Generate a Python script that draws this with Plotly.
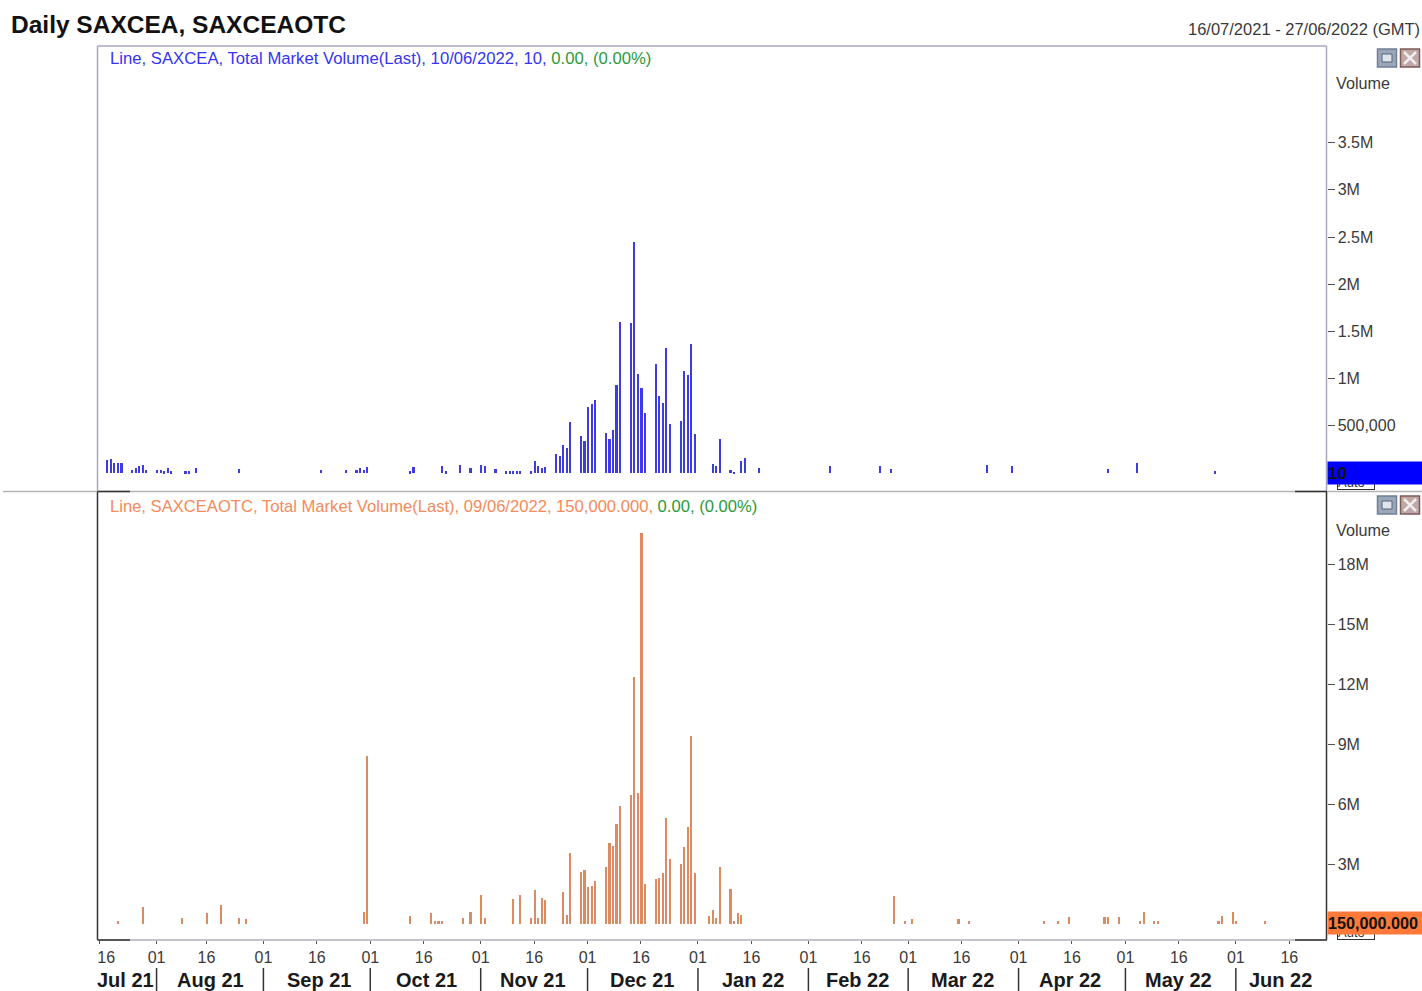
import pandas as pd
import plotly.graph_objects as go

# Days counted from the start of the chart (16 Jul 2021)
START = pd.Timestamp("2021-07-16")
top_days = [3,4,5,6,7,10,11,12,13,14,17,18,19,20,21,25,26,28,40,63,70,73,74,75,76,88,89,
            97,98,102,105,108,109,112,115,116,117,118,119,122,123,124,125,126,
            129,130,131,132,133,136,137,138,139,140,143,144,145,146,147,150,151,152,153,154,
            157,158,159,160,161,164,165,166,167,168,173,174,175,178,179,181,182,186,
            206,220,223,250,257,284,292,314]
top_volume = [134e3,152e3,106e3,106e3,106e3,35e3,56e3,78e3,81e3,35e3,35e3,35e3,21e3,56e3,21e3,18e3,18e3,53e3,39e3,28e3,28e3,28e3,56e3,28e3,64e3,21e3,64e3,
              71e3,21e3,88e3,53e3,88e3,71e3,39e3,18e3,18e3,18e3,18e3,18e3,18e3,131e3,78e3,49e3,67e3,
              198e3,177e3,293e3,261e3,540e3,392e3,343e3,703e3,734e3,770e3,427e3,360e3,459e3,932e3,1.6e6,1.585e6,2.45e6,1.045e6,897e3,636e3,
              1.16e6,816e3,738e3,1.324e6,523e3,554e3,1.08e6,1.04e6,1.37e6,410e3,99e3,78e3,360e3,32e3,14e3,131e3,162e3,49e3,
              71e3,71e3,39e3,88e3,71e3,39e3,106e3,21e3]
bottom_days = [6,13,24,31,35,40,42,75,76,88,94,95,96,97,103,105,108,109,117,119,122,123,124,125,126,
               131,132,133,136,137,138,139,140,143,144,145,146,147,150,151,152,153,154,
               157,158,159,160,161,164,165,166,167,168,172,173,174,175,178,179,180,181,
               224,227,229,242,245,266,270,273,283,284,287,293,294,297,298,315,316,319,320,328]
bottom_volume = [150e3,852e3,317e3,551e3,935e3,317e3,234e3,618e3,8.41e6,384e3,551e3,150e3,150e3,150e3,317e3,618e3,1.47e6,317e3,1.235e6,1.45e6,284e3,1.69e6,284e3,1.29e6,1.22e6,
                 1.6e6,451e3,3.54e6,2.62e6,2.69e6,1.84e6,1.92e6,2.15e6,2.84e6,4.07e6,3.92e6,5.03e6,5.93e6,6.48e6,12.37e6,6.55e6,19.58e6,2.0e6,
                 2.24e6,2.3e6,2.54e6,5.31e6,3.24e6,3.0e6,3.84e6,4.84e6,9.42e6,2.54e6,400e3,700e3,300e3,2.84e6,1.75e6,150e3,530e3,460e3,
                 1.42e6,167e3,250e3,250e3,167e3,167e3,167e3,334e3,334e3,334e3,334e3,167e3,618e3,167e3,167e3,167e3,384e3,618e3,167e3,150e3]

top_ticks = [5e5, 1e6, 1.5e6, 2e6, 2.5e6, 3e6, 3.5e6]
top_ticklabels = ["500,000", "1M", "1.5M", "2M", "2.5M", "3M", "3.5M"]
bottom_ticks = [3e6, 6e6, 9e6, 12e6, 15e6, 18e6]
bottom_ticklabels = ["3M", "6M", "9M", "12M", "15M", "18M"]
date_ticks = ["2021-07-17","2021-08-02","2021-08-16","2021-09-01","2021-09-16","2021-10-01","2021-10-16",
              "2021-11-01","2021-11-16","2021-12-01","2021-12-16","2022-01-01","2022-01-16","2022-02-01",
              "2022-02-16","2022-03-01","2022-03-16","2022-04-01","2022-04-16","2022-05-01","2022-05-16",
              "2022-06-01","2022-06-16"]
date_ticklabels = ["\u00a0\u00a0\u00a016","01","16","01","16","01","16","01","16","01","16","01","16","01",
                   "16","01","16","01","16","01","16","01","16"]
month_lines = ["2021-08-02","2021-09-01","2021-10-01","2021-11-01","2021-12-01","2022-01-01",
               "2022-02-01","2022-03-01","2022-04-01","2022-05-01","2022-06-01"]
month_labels = ["Jul 21","Aug 21","Sep 21","Oct 21","Nov 21","Dec 21","Jan 22","Feb 22","Mar 22","Apr 22","May 22","Jun 22"]
month_label_px = [125,210,319,426,533,642,753,857,962,1070,1178,1280]

W, H = 1422, 991
BLUE, ORANGE = "#3c3ce0", "#dc8a62"
GREEN = "#2a9a3a"
TEXT = "#3a3a3a"
FONT = "Liberation Sans"
def px(x): return x / W
def py(y): return 1 - y / H
def to_dates(days): return [START + pd.Timedelta(days=d) for d in days]

BAR_MS = 0.6 * 86400000
fig = go.Figure()
fig.add_bar(x=to_dates(top_days), y=top_volume, xaxis="x", yaxis="y", width=BAR_MS,
            marker=dict(color=BLUE, line_width=0))
fig.add_bar(x=to_dates(bottom_days), y=bottom_volume, xaxis="x", yaxis="y2", width=BAR_MS,
            marker=dict(color=ORANGE, line_width=0))

tickstyle = dict(ticks="outside", ticklen=7, tickwidth=1, tickcolor="#555555",
                 tickfont=dict(family=FONT, size=16, color=TEXT), showgrid=False, zeroline=False, showline=False)
fig.update_layout(
    width=W, height=H, margin=dict(l=0, r=0, t=0, b=0, autoexpand=False), paper_bgcolor="white", plot_bgcolor="white",
    showlegend=False, bargap=0, font=dict(family=FONT),
    xaxis=dict(domain=[px(97.5), px(1326.5)], anchor="y2", type="date",
               range=[START + pd.Timedelta(days=0.42), START + pd.Timedelta(days=345.45)],
               tickmode="array", tickvals=date_ticks, ticktext=date_ticklabels, ticks="outside",
               ticklen=3, tickwidth=1, tickcolor="#555555", showgrid=False, zeroline=False, showline=False,
               tickangle=0, automargin=False,
               tickfont=dict(family=FONT, size=16, color=TEXT)),
    yaxis=dict(domain=[py(491), py(46)], range=[-190e3, 4.523e6], side="right", anchor="x", automargin=False,
               tickmode="array", tickvals=top_ticks, ticktext=top_ticklabels, **tickstyle),
    yaxis2=dict(domain=[py(940), py(492)], range=[-0.8e6, 21.64e6], side="right", anchor="x", automargin=False,
                tickmode="array", tickvals=bottom_ticks, ticktext=bottom_ticklabels, **tickstyle),
)

shapes, anns = [], []
def line(x0, y0, x1, y1, color, width=1):
    shapes.append(dict(type="line", xref="paper", yref="paper", x0=px(x0), x1=px(x1), y0=py(y0), y1=py(y1),
                       line=dict(color=color, width=width)))
def rect(x0, y0, x1, y1, fill, color, width=1):
    shapes.append(dict(type="rect", xref="paper", yref="paper", x0=px(x0), x1=px(x1), y0=py(y0), y1=py(y1),
                       fillcolor=fill, line=dict(color=color, width=width)))
def text(x, y, s, size=16, color=TEXT, anchor="left", **kw):
    anns.append(dict(xref="paper", yref="paper", x=px(x), y=py(y), text=s, showarrow=False, xanchor=anchor,
                     yanchor="middle", align="left", font=dict(family=FONT, size=size, color=color), borderpad=0, **kw))

GREY = "#a6a6c0"
DARK = "#333333"
# panel frames
line(97.5, 46, 1326.5, 46, GREY, 1.5)
line(97.5, 46, 97.5, 491, GREY, 1.5)
line(1326.5, 46, 1326.5, 491, GREY, 1.5)
line(3, 491.5, 1422, 491.5, "#b4b4b4", 1.5)
line(97.5, 491.5, 130, 491.5, DARK, 1.5)
line(1295, 491.5, 1327, 491.5, DARK, 1.5)
line(97.5, 492, 97.5, 940, DARK, 1.5)
line(1326.5, 492, 1326.5, 940, DARK, 1.5)
line(97.5, 940, 1326.5, 940, "#b0b0c0", 1.5)
line(97.5, 940, 130, 940, DARK, 1.5)
line(1295, 940, 1327, 940, DARK, 1.5)

# month separators, placed on the date axis
for d in month_lines:
    shapes.append(dict(type="line", xref="x", yref="paper", x0=d, x1=d, y0=py(968), y1=py(991),
                       line=dict(color=DARK, width=1.5)))

# window buttons
for top in (49, 496):
    rect(1377.5, top, 1396.5, top + 18, "#9aa7b8", "#6f7f94", 1.5)
    rect(1382, top + 5, 1392, top + 13, "#dfe4ea", "#53627a", 1)
    rect(1400.5, top, 1419.5, top + 18, "#bfa8a8", "#7d5a5a", 1.5)
    line(1404, top + 3, 1416, top + 15, "#f2eeee", 2.5)
    line(1416, top + 3, 1404, top + 15, "#f2eeee", 2.5)

text(10, 24.5, "<b>Daily SAXCEA, SAXCEAOTC</b>", size=24.5, color="#111111")
text(1420.5, 29, "16/07/2021 - 27/06/2022 (GMT)", size=16.5, anchor="right")
sp = lambda c, s: f'<span style="color:{c}">{s}</span>'
text(108.5, 59, sp("#3535f0", "Line, SAXCEA, Total Market Volume(Last), 10/06/2022, 10, ") + sp(GREEN, "0.00, (0.00%)"), size=16.7)
text(108.5, 506, sp("#f58a5a", "Line, SAXCEAOTC, Total Market Volume(Last), 09/06/2022, 150,000.000, ") + sp(GREEN, "0.00, (0.00%)"), size=16.6)
text(1334.5, 82.5, "Volume", size=16.2)
text(1334.5, 529.5, "Volume", size=16.2)
for lab, x in zip(month_labels, month_label_px):
    text(x, 980, f"<b>{lab}</b>", size=20, color="#1a1a1a", anchor="center")

# price tags hide most of the Auto button behind them
for cy in (482, 932):
    text(1356, cy, "Auto", size=13, color="#333333", anchor="center", bgcolor="white", bordercolor="#333333",
         borderwidth=1, width=36, height=14)
anns.append(dict(xref="paper", yref="paper", x=px(1327), y=py(473), xanchor="left", yanchor="middle", text="<b>10</b>",
                 showarrow=False, align="left", width=95, height=22, bgcolor="#0000ff", borderpad=0,
                 font=dict(family=FONT, size=17, color="#111111")))
anns.append(dict(xref="paper", yref="paper", x=px(1327), y=py(923), xanchor="left", yanchor="middle", text="<b>150,000.000</b>",
                 showarrow=False, align="left", width=95, height=22, bgcolor="#ff7a3a", borderpad=0,
                 font=dict(family=FONT, size=16.2, color="#111111")))

fig.update_layout(shapes=shapes, annotations=anns)
fig.write_html("out.html", config=dict(displayModeBar=False),
               post_script="document.body.style.margin='0';document.body.style.overflow='hidden';")
